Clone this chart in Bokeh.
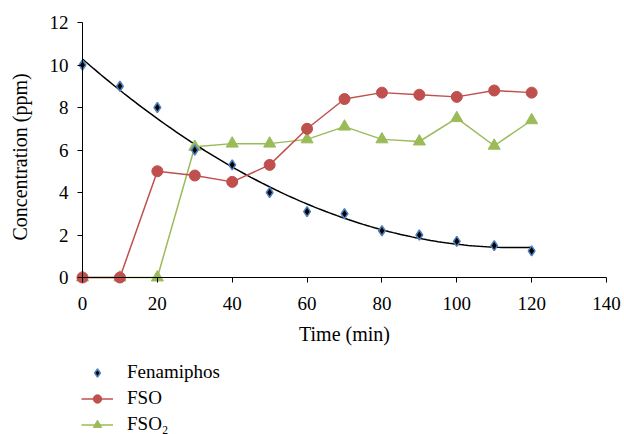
import numpy as np
from bokeh.plotting import figure
from bokeh.models import Legend, LegendItem, FixedTicker, Range1d, Title
from bokeh.embed import file_html
from bokeh.resources import INLINE

time = [0, 10, 20, 30, 40, 50, 60, 70, 80, 90, 100, 110, 120]
fenamiphos = [10, 9, 8, 6, 5.3, 4, 3.1, 3, 2.2, 2, 1.7, 1.5, 1.25]
fso = [0, 0, 5, 4.8, 4.5, 5.3, 7, 8.4, 8.7, 8.6, 8.5, 8.8, 8.7]
fso2 = [0, 0, 0, 6.15, 6.3, 6.3, 6.5, 7.1, 6.5, 6.4, 7.5, 6.2, 7.4]
x_ticks = [0, 20, 40, 60, 80, 100, 120, 140]
y_ticks = [0, 2, 4, 6, 8, 10, 12]

FONT = "Liberation Serif"

W, H = 624, 434
LEFT = 32                      # width of left panel (holds y title)
X0_PX, X140_PX = 82, 606       # where x=0 and x=140 sit
Y0_PX, Y12_PX = 277, 22        # where y=0 and y=12 sit
sx = (X140_PX - X0_PX) / 140.0
sy = (Y0_PX - Y12_PX) / 12.0
x_start = -(X0_PX - LEFT) / sx
x_end = x_start + (W - LEFT) / sx
y_start = -(H - Y0_PX) / sy
y_end = Y0_PX / sy

p = figure(width=W, height=H, output_backend="svg", toolbar_location=None,
           x_range=Range1d(x_start, x_end), y_range=Range1d(y_start, y_end),
           min_border_left=LEFT, min_border_right=0, min_border_top=0,
           min_border_bottom=0)
p.outline_line_color = None
p.grid.visible = False
p.background_fill_color = "white"

for ax in (p.xaxis[0], p.yaxis[0]):
    ax.axis_line_color = "black"
    ax.major_tick_line_color = "black"
    ax.major_tick_in = 0
    ax.major_tick_out = 5
    ax.minor_tick_line_color = None
    ax.major_label_text_font = FONT
    ax.major_label_text_font_size = "19px"
    ax.major_label_text_color = "black"
    ax.axis_label_text_font = FONT
    ax.axis_label_text_font_size = "20px"
    ax.axis_label_text_font_style = "normal"
    ax.axis_label_text_color = "black"
p.xaxis.ticker = FixedTicker(ticks=x_ticks)
p.yaxis.ticker = FixedTicker(ticks=y_ticks)
p.xaxis.fixed_location = 0
p.yaxis.fixed_location = 0
p.xaxis.bounds = (0, 140)
p.yaxis.bounds = (0, 12)
p.xaxis.axis_label = "Time (min)"
p.xaxis.major_label_standoff = 14
p.yaxis.major_label_standoff = 9
p.xaxis.axis_label_standoff = 10

p.add_layout(Title(text="Concentration (ppm)", align="left", offset=194,
                   vertical_align="top", standoff=0,
                   text_font=FONT, text_font_size="20px",
                   text_font_style="normal", text_color="black"), "left")

# polynomial trendline (order 2) fitted to Fenamiphos data
coef = np.polyfit(time, fenamiphos, 2)
xt = np.linspace(0, 120, 121)
p.line(xt, np.polyval(coef, xt), line_color="black", line_width=1.5)

green = "#9BBB59"
red = "#C0504D"
l2 = p.line(time, fso2, line_color=green, line_width=1.5)
m2 = p.scatter(time, fso2, marker="triangle", size=12, fill_color=green, line_color=green)
l1 = p.line(time, fso, line_color=red, line_width=1.5)
m1 = p.scatter(time, fso, marker="circle", size=11, fill_color=red, line_color=red)
m0 = p.scatter(time, fenamiphos, marker="diamond", size=10, fill_color="black",
               line_color="#4F81BD", line_width=1.5)

legend = Legend(items=[
    LegendItem(label="Fenamiphos", renderers=[m0]),
    LegendItem(label="FSO", renderers=[l1, m1]),
    LegendItem(label="FSO₂", renderers=[l2, m2]),
], location=(X0_PX - LEFT - 1, -1), orientation="vertical")
legend.label_text_font = FONT
legend.label_text_font_size = "19px"
legend.label_text_color = "black"
legend.glyph_width = 32
legend.glyph_height = 21
legend.label_height = 21
legend.label_standoff = 14
legend.spacing = 4
legend.padding = 0
legend.margin = 0
legend.border_line_color = None
legend.background_fill_alpha = 0
p.add_layout(legend)

open("out.html", "w").write(file_html(p, INLINE))
